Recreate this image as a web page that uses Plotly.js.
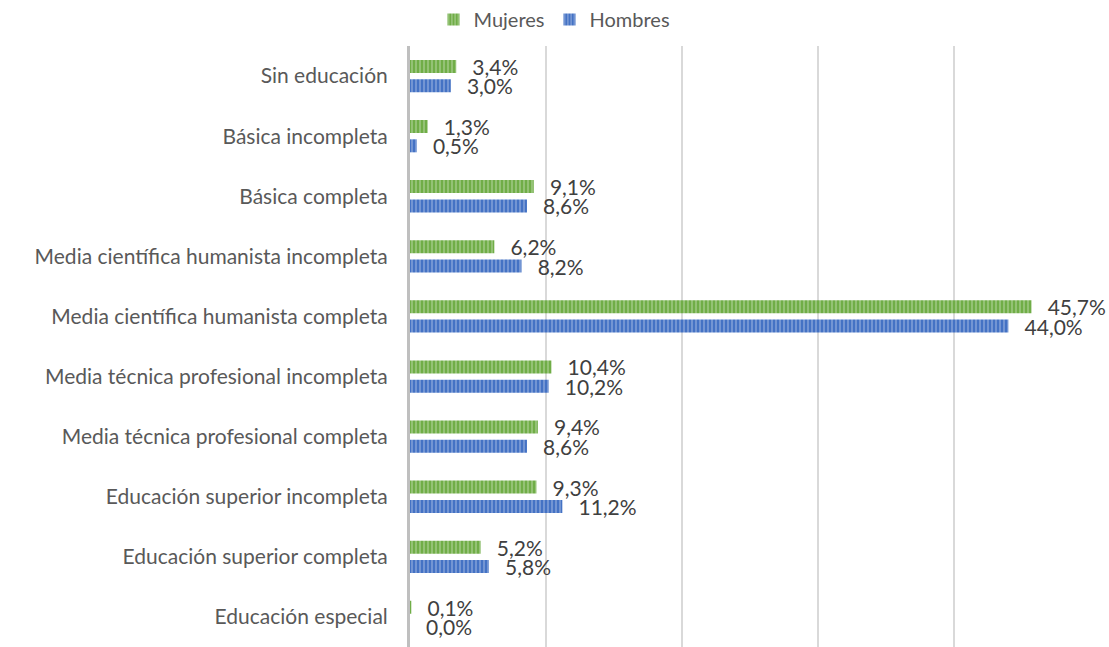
<!DOCTYPE html>
<html><head><meta charset="utf-8">
<script src="https://cdn.plot.ly/plotly-3.0.1.min.js"></script>
<style>html,body{margin:0;padding:0;background:#fff}</style>
</head><body><div id="chart" style="width:1109px;height:647px"></div>
<script>
const categories = ["Sin educación","Básica incompleta","Básica completa","Media científica humanista incompleta","Media científica humanista completa","Media técnica profesional incompleta","Media técnica profesional completa","Educación superior incompleta","Educación superior completa","Educación especial"];
const mujeres = [3.4,1.3,9.1,6.2,45.7,10.4,9.4,9.3,5.2,0.1];
const hombres = [3.0,0.5,8.6,8.2,44.0,10.2,8.6,11.2,5.8,0.0];
const fontFam = "Lato, Liberation Sans, Arial, sans-serif";
function trace(name, vals, color){
  return {type:'bar', orientation:'h', name:name, y:categories, x:vals,
    marker:{color:color, pattern:{shape:'|', fgcolor:'#ffffff', bgcolor:color, size:4, solidity:0.25, fillmode:'overlay'}, line:{width:0}},
    texttemplate:'\u2002\u2009%{x:.1f}%', textposition:'outside', cliponaxis:false, constraintext:'none',
    textfont:{size:21, color:'#404040', family:fontFam}, hoverinfo:'none'};
}
const data = [trace('Mujeres', mujeres, '#70AD47'), trace('Hombres', hombres, '#4472C4')];
const layout = {
  width:1109, height:647, margin:{l:410, r:19, t:46, b:0},
  paper_bgcolor:'#fff', plot_bgcolor:'#fff', separators:',.',
  barmode:'group', bargap:0.357, bargroupgap:0.326,
  font:{family:fontFam, color:'#595959'},
  showlegend:true,
  legend:{orientation:'h', x:0.5, xanchor:'center', xref:'container', y:1.0, yanchor:'top', yref:'container', font:{size:20, color:'#595959'}, traceorder:'normal'},
  xaxis:{range:[0,50], dtick:10, showticklabels:false, showgrid:true, gridcolor:'#D9D9D9', gridwidth:2, zeroline:false, showline:false, fixedrange:true},
  yaxis:{autorange:'reversed', type:'category', tickfont:{size:21, color:'#595959', family:fontFam}, ticks:'', showline:true, linecolor:'#BFBFBF', linewidth:3, ticklabelstandoff:15, showgrid:false}
};
Plotly.newPlot('chart', data, layout, {displayModeBar:false, staticPlot:true});
</script></body></html>
